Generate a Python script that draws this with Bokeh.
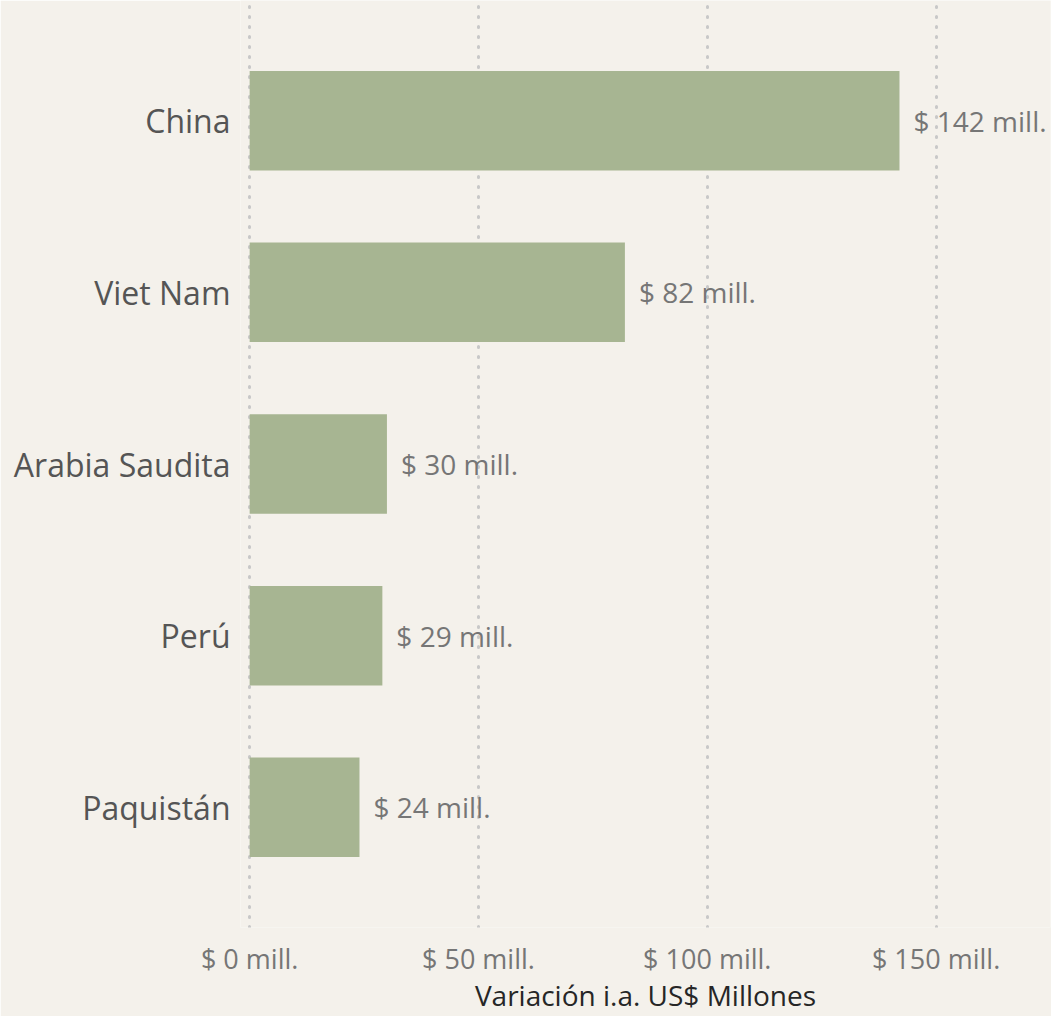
from bokeh.plotting import figure
from bokeh.models import ColumnDataSource, FactorRange, Range1d, FixedTicker
from bokeh.core.properties import value
from bokeh.embed import file_html
from bokeh.resources import INLINE

countries = ["China", "Viet Nam", "Arabia Saudita", "Perú", "Paquistán"]
values = [142, 82, 30, 29, 24]
value_labels = ["$ 142 mill.", "$ 82 mill.", "$ 30 mill.", "$ 29 mill.", "$ 24 mill."]
tick_values = [0, 50, 100, 150]
tick_labels = ["$ 0 mill.", "$ 50 mill.", "$ 100 mill.", "$ 150 mill."]
x_title = "Variación i.a. US$ Millones"

BG = "#f4f1eb"
FONT = "Open Sans"

src = ColumnDataSource(dict(c=countries, v=values, lab=value_labels))

p = figure(
    width=1051, height=1016,
    y_range=FactorRange(factors=list(reversed(countries)), range_padding=0.2,
                        range_padding_units="absolute"),
    x_range=Range1d(-2, 175),
    output_backend="svg", toolbar_location=None,
    background_fill_color=BG, border_fill_color=BG,
    min_border_left=240, min_border_right=1, min_border_top=0, min_border_bottom=89,
)
p.outline_line_color = None

p.hbar(y="c", right="v", left=0, height=0.58, source=src,
       fill_color="#a7b592", line_color=None)

p.text(x="v", y="c", text="lab", source=src, x_offset=14,
       text_align="left", text_baseline="middle",
       text_font=value(FONT), text_font_size="28px", text_color="#767676")

# grids
p.ygrid.grid_line_color = None
p.xgrid.grid_line_color = "#c8c8c8"
p.xgrid.grid_line_width = 3
p.xgrid.grid_line_dash = "1 9"
p.xgrid.grid_line_cap = "round"

# x axis
p.xaxis.ticker = FixedTicker(ticks=tick_values)
p.xaxis.major_label_overrides = {t: l for t, l in zip(tick_values, tick_labels)}
p.xaxis.axis_line_color = None
p.xaxis.major_tick_line_color = None
p.xaxis.minor_tick_line_color = None
p.xaxis.major_label_text_font = FONT
p.xaxis.major_label_text_font_size = "27px"
p.xaxis.major_label_text_color = "#767676"
p.xaxis.major_label_standoff = 6
p.xaxis.axis_label = x_title
p.xaxis.axis_label_text_font = FONT
p.xaxis.axis_label_text_font_size = "28px"
p.xaxis.axis_label_text_font_style = "normal"
p.xaxis.axis_label_text_color = "#262626"
p.xaxis.axis_label_standoff = -4

# y axis
p.yaxis.axis_line_color = None
p.yaxis.major_tick_line_color = None
p.yaxis.minor_tick_line_color = None
p.yaxis.major_label_text_font = FONT
p.yaxis.major_label_text_font_size = "32px"
p.yaxis.major_label_text_color = "#555555"
p.yaxis.major_label_standoff = 4

open("out.html", "w").write(file_html(p, INLINE))
